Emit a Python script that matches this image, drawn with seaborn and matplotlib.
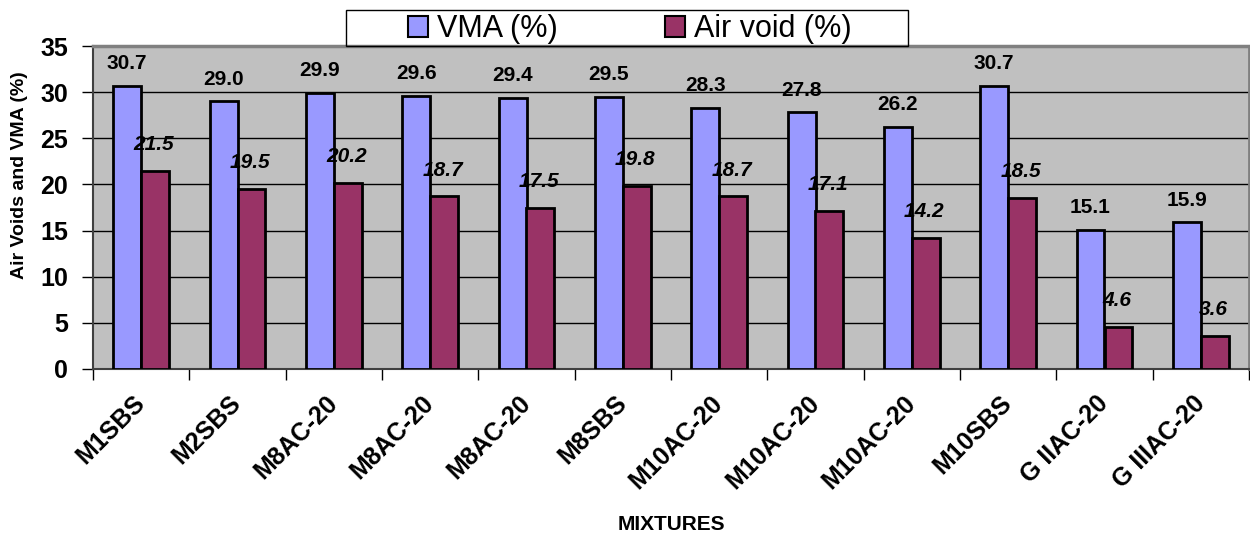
import matplotlib
matplotlib.use("Agg")
import matplotlib.pyplot as plt
import seaborn as sns
import pandas as pd
import numpy as np
from matplotlib.patches import Rectangle
from matplotlib.ticker import FixedLocator

categories = ["M1SBS", "M2SBS", "M8AC-20", "M8AC-20", "M8AC-20", "M8SBS",
              "M10AC-20", "M10AC-20", "M10AC-20", "M10SBS", "G IIAC-20", "G IIIAC-20"]
vma = [30.7, 29.0, 29.9, 29.6, 29.4, 29.5, 28.3, 27.8, 26.2, 30.7, 15.1, 15.9]
air_void = [21.5, 19.5, 20.2, 18.7, 17.5, 19.8, 18.7, 17.1, 14.2, 18.5, 4.6, 3.6]
series_names = ["VMA (%)", "Air void (%)"]
y_ticks = [0, 5, 10, 15, 20, 25, 30, 35]

sns.set_theme(style="white")
plt.rcParams['font.family'] = ['Liberation Sans', 'DejaVu Sans']
plt.rcParams['text.color'] = 'black'
plt.rcParams['xtick.color'] = 'black'
plt.rcParams['ytick.color'] = 'black'
plt.rcParams['axes.labelcolor'] = 'black'

n = len(categories)
df = pd.DataFrame({
    "pos": list(range(n)) * 2,
    "value": vma + air_void,
    "series": [series_names[0]] * n + [series_names[1]] * n,
})

colors = ["#9999FF", "#993366"]

fig = plt.figure(figsize=(12.5, 5.37), dpi=100)
ax = fig.add_axes([93/1250, 1-369/537, (1249-93)/1250, (369-46)/537])
ax.set_facecolor("#C0C0C0")

sns.barplot(data=df, x="pos", y="value", hue="series", order=list(range(n)),
            hue_order=series_names, palette=colors, width=0.58,
            edgecolor="black", linewidth=2, ax=ax, legend=False, errorbar=None,
            saturation=1, zorder=3)

ax.set_ylim(0, 35)
ax.set_xlim(-0.5, n - 0.5)
ax.set_yticks(y_ticks)
ax.set_yticklabels([str(t) for t in y_ticks], fontsize=18, fontweight="bold", color="black")
ax.yaxis.grid(True, color="black", linewidth=1, zorder=0)
ax.set_axisbelow(True)

ax.set_xticks(range(n))
ax.set_xticklabels(categories, rotation=45, ha="right", rotation_mode="anchor",
                   fontsize=18, fontweight="bold", color="black")
ax.xaxis.set_minor_locator(FixedLocator(np.arange(-0.5, n, 1.0)))
ax.tick_params(axis="x", which="major", length=0, pad=22)
ax.tick_params(axis="x", which="minor", length=8, width=1, color="black", direction="out", bottom=True)
ax.tick_params(axis="y", length=8, width=1, color="black", direction="out", left=True, pad=10)
for lbl in ax.get_xticklabels():
    lbl.set_va("center")

ax.spines["top"].set_color("#808080")
ax.spines["top"].set_linewidth(2.5)
ax.spines["right"].set_color("#808080")
ax.spines["right"].set_linewidth(2)
ax.spines["left"].set_color("#404040")
ax.spines["left"].set_linewidth(1.5)
ax.spines["bottom"].set_color("#404040")
ax.spines["bottom"].set_linewidth(1.5)

ax.set_xlabel("")
ax.set_ylabel("")

# value labels
for cont, name in zip(ax.containers, series_names):
    for bar in cont:
        h = bar.get_height()
        xc = bar.get_x() + bar.get_width() / 2
        if name == series_names[0]:
            ax.annotate(f"{h:.1f}", (xc, h), xytext=(0, 16), textcoords="offset points",
                        ha="center", va="center", fontsize=15, fontweight="bold",
                        color="black", zorder=5)
        else:
            ax.annotate(f"{h:.1f}", (xc, h), xytext=(-1, 19), textcoords="offset points",
                        ha="center", va="center", fontsize=15, fontweight="bold",
                        fontstyle="italic", color="black", zorder=5)

fig.text(20/1250, 1-175/537, "Air Voids and VMA (%)", rotation=90, ha="center", va="center",
         fontsize=14, fontweight="bold", color="black")
fig.text(671/1250, 1-524/537, "MIXTURES", ha="center", va="center",
         fontsize=15, fontweight="bold", color="black")

# legend
handles = [Rectangle((0, 0), 1, 1, facecolor=c, edgecolor="black", linewidth=1.5) for c in colors]
fig.legend(handles, series_names, loc="center", bbox_to_anchor=(629.5/1250, 1-29/537),
           ncol=2, frameon=False, fontsize=22, handlelength=0.66, handleheight=0.66,
           handletextpad=0.3, columnspacing=3.5, borderpad=0, labelcolor="black")
fig.patches.append(Rectangle((346/1250, 1-46/537), (908-346)/1250, 36/537,
                             transform=fig.transFigure, fill=False, edgecolor="black",
                             linewidth=1, zorder=10))

fig.savefig("out.png", dpi=100)
